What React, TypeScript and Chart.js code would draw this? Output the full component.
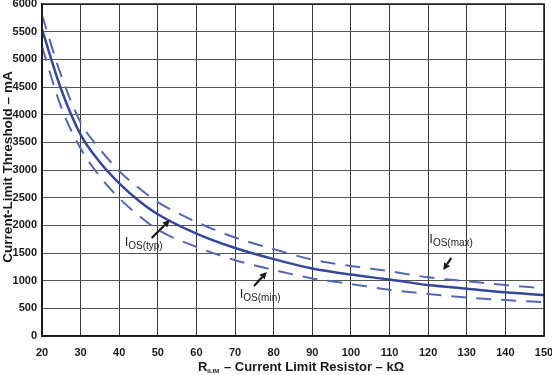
import React, { useEffect, useRef } from "react";
import { Chart, registerables } from "chart.js";

Chart.register(...registerables);

// Data
const resistanceK = [20, 25, 30, 35, 40, 45, 50, 60, 70, 80, 90, 100, 110, 120, 130, 140, 150];
const iosTyp = [5540, 4450, 3640, 3140, 2760, 2450, 2200, 1850, 1590, 1390, 1220, 1110, 1020, 920, 855, 790, 740];
const iosMax = [5800, 4700, 3860, 3380, 2980, 2680, 2420, 2060, 1780, 1570, 1380, 1265, 1170, 1060, 990, 920, 862];
const iosMin = [5230, 4130, 3390, 2880, 2490, 2180, 1920, 1610, 1370, 1195, 1040, 940, 835, 760, 695, 650, 610];

const xMin = 20;
const xMax = 150;
const xStep = 10;
const yMin = 0;
const yMax = 6000;
const yStep = 500;

const yTitle = "Current-Limit Threshold – mA";
const xTitleMain = "R";
const xTitleSub = "ILIM";
const xTitleRest = " – Current Limit Resistor – kΩ";

// annotation labels and arrows, in data units
const annLabels = ["OS(typ)", "OS(min)", "OS(max)"];
const annLabelX = [41.4, 71.2, 120.3];
const annLabelY = [1627, 687, 1681];
const annTailX = [48.4, 74.9, 126.0];
const annTailY = [1771, 904, 1410];
const annTipX = [53.1, 78.2, 123.9];
const annTipY = [2096, 1157, 1193];

const FONT = "'Liberation Sans', Arial, Helvetica, sans-serif";

const titlesPlugin = {
  id: "titlesPlugin",
  afterDraw(chart: any) {
    const { ctx, chartArea } = chart;
    ctx.save();
    ctx.fillStyle = "#1a1a1a";
    // Y title
    ctx.font = `bold 13.5px ${FONT}`;
    ctx.textAlign = "center";
    ctx.textBaseline = "middle";
    ctx.save();
    ctx.translate(8, (chartArea.top + chartArea.bottom) / 2 - 3);
    ctx.rotate(-Math.PI / 2);
    ctx.fillText(yTitle, 0, 0);
    ctx.restore();

    // X title with subscript
    ctx.textAlign = "left";
    ctx.textBaseline = "alphabetic";
    const mainFont = `bold 13px ${FONT}`;
    const subFont = `bold 6px ${FONT}`;
    ctx.font = mainFont;
    const wR = ctx.measureText(xTitleMain).width;
    const wRest = ctx.measureText(xTitleRest).width;
    ctx.font = subFont;
    const wSub = ctx.measureText(xTitleSub).width + 1;
    const total = wR + wSub + wRest;
    const cx = (chartArea.left + chartArea.right) / 2 + 8;
    let x = cx - total / 2;
    const base = 371;
    ctx.font = mainFont;
    ctx.fillText(xTitleMain, x, base);
    x += wR;
    ctx.font = subFont;
    ctx.fillText(xTitleSub, x, base + 2);
    x += wSub;
    ctx.font = mainFont;
    ctx.fillText(xTitleRest, x, base);

    // annotations
    const xs = chart.scales.x;
    const ys = chart.scales.y;
    for (let i = 0; i < annLabels.length; i++) {
      const lx = xs.getPixelForValue(annLabelX[i]);
      const ly = ys.getPixelForValue(annLabelY[i]);
      ctx.fillStyle = "#222";
      ctx.font = `13px ${FONT}`;
      ctx.textBaseline = "alphabetic";
      ctx.fillText("I", lx, ly);
      const wI = ctx.measureText("I").width;
      ctx.font = `10px ${FONT}`;
      ctx.fillText(annLabels[i], lx + wI, ly + 3);

      const tx = xs.getPixelForValue(annTailX[i]);
      const ty = ys.getPixelForValue(annTailY[i]);
      const hx = xs.getPixelForValue(annTipX[i]);
      const hy = ys.getPixelForValue(annTipY[i]);
      const ang = Math.atan2(hy - ty, hx - tx);
      const headLen = 7;
      const headW = 3.5;
      const bx = hx - headLen * Math.cos(ang);
      const by = hy - headLen * Math.sin(ang);
      ctx.strokeStyle = "#1a1a1a";
      ctx.lineWidth = 2.2;
      ctx.beginPath();
      ctx.moveTo(tx, ty);
      ctx.lineTo(bx, by);
      ctx.stroke();
      ctx.fillStyle = "#1a1a1a";
      ctx.beginPath();
      ctx.moveTo(hx, hy);
      ctx.lineTo(bx + headW * Math.sin(ang), by - headW * Math.cos(ang));
      ctx.lineTo(bx - headW * Math.sin(ang), by + headW * Math.cos(ang));
      ctx.closePath();
      ctx.fill();
    }
    ctx.restore();
  },
};

export default function App() {
  const canvasRef = useRef<HTMLCanvasElement | null>(null);

  useEffect(() => {
    if (!canvasRef.current) return;
    const mk = (arr: number[]) => resistanceK.map((r, i) => ({ x: r, y: arr[i] }));
    const chart = new Chart(canvasRef.current, {
      type: "line",
      data: {
        datasets: [
          {
            label: "IOS(typ)",
            data: mk(iosTyp),
            borderColor: "#34479a",
            borderWidth: 2.5,
            pointRadius: 0,
            cubicInterpolationMode: "monotone",
            fill: false,
          },
          {
            label: "IOS(max)",
            data: mk(iosMax),
            borderColor: "#5467b2",
            borderWidth: 2,
            borderDash: [15, 10],
            pointRadius: 0,
            cubicInterpolationMode: "monotone",
            fill: false,
          },
          {
            label: "IOS(min)",
            data: mk(iosMin),
            borderColor: "#5467b2",
            borderWidth: 2,
            borderDash: [15, 10],
            pointRadius: 0,
            cubicInterpolationMode: "monotone",
            fill: false,
          },
        ],
      },
      options: {
        responsive: false,
        animation: false,
        devicePixelRatio: 1,
        layout: { padding: { top: 4, right: 8, left: 0, bottom: 0 } },
        plugins: {
          legend: { display: false },
          tooltip: { enabled: false },
          title: { display: false },
        },
        scales: {
          x: {
            type: "linear",
            min: xMin,
            max: xMax,
            border: { color: "#1a1a1a", width: 1.5 },
            grid: { color: "#3a3a3a", lineWidth: 1, drawTicks: false },
            ticks: {
              stepSize: xStep,
              padding: 10,
              color: "#1a1a1a",
              font: { family: FONT, size: 11, weight: "bold" },
              maxRotation: 0,
              autoSkip: false,
              callback: (v: any) => String(v),
            },
            afterFit(scale: any) {
              scale.height = 39;
              scale.paddingLeft = 0;
              scale.paddingRight = 0;
            },
          },
          y: {
            type: "linear",
            min: yMin,
            max: yMax,
            border: { color: "#1a1a1a", width: 1.5 },
            grid: { color: "#555", lineWidth: 1, drawTicks: false },
            ticks: {
              stepSize: yStep,
              padding: 5,
              color: "#1a1a1a",
              font: { family: FONT, size: 11, weight: "bold" },
              autoSkip: false,
              callback: (v: any) => String(v),
            },
            afterFit(scale: any) {
              scale.width = 42;
              scale.paddingTop = 0;
              scale.paddingBottom = 0;
            },
          },
        },
      },
      plugins: [
        titlesPlugin,
        {
          id: "frame",
          afterDraw(c: any) {
            const { ctx, chartArea } = c;
            ctx.save();
            ctx.strokeStyle = "#1a1a1a";
            ctx.lineWidth = 1.5;
            ctx.strokeRect(chartArea.left, chartArea.top, chartArea.right - chartArea.left, chartArea.bottom - chartArea.top);
            ctx.restore();
          },
        },
      ],
    } as any);
    return () => chart.destroy();
  }, []);

  return (
    <div style={{ position: "fixed", left: 0, top: 0, width: 552, height: 375, background: "#fff" }}>
      <canvas ref={canvasRef} width={552} height={375} style={{ display: "block", width: 552, height: 375 }} />
    </div>
  );
}
